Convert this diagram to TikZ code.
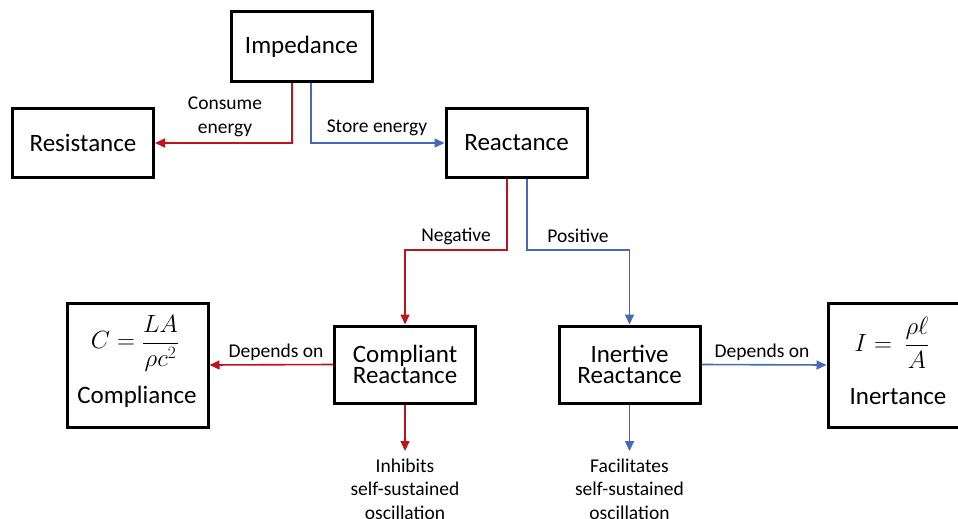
\documentclass[tikz,border=0pt]{standalone}
\usepackage{fontspec}
\setmainfont{Carlito}
\usetikzlibrary{arrows.meta}
\definecolor{myred}{RGB}{192,20,28}
\definecolor{myblue}{RGB}{68,104,188}
\begin{document}
\begin{tikzpicture}[x=1pt,y=-1pt,
  box/.style={draw=black,line width=3pt,rectangle,minimum width=141pt,minimum height=69pt,inner sep=0pt,align=center,font=\fontsize{25}{25}\selectfont},
  bigbox/.style={box,minimum height=124pt},
  lbl/.style={font=\fontsize{19.5}{23.5}\selectfont,align=center,inner sep=0pt},
  rarr/.style={draw=myred,line width=1.6pt,-{Triangle[length=10pt,width=9pt]}},
  barr/.style={draw=myblue,line width=1.6pt,-{Triangle[length=10pt,width=9pt]}}]
\useasboundingbox (0,0) rectangle (958,519);
\node[box] (imp) at (301.5,46.5) {Impedance};
\node[box] (res) at (83,143) {Resistance};
\node[box] (rea) at (516.5,143) {Reactance};
\node[box,minimum height=77pt] (cr) at (405,364.5) {Compliant\\[-4pt]Reactance};
\node[box,minimum height=77pt] (ir) at (629.5,364.5) {Inertive\\[-4pt]Reactance};
\node[bigbox] (cmp) at (137.5,365) {};
\node[bigbox] (ine) at (898.5,365) {};
\node (ceq) at (135,343) {\fontsize{24}{24}\selectfont$\displaystyle C=\frac{LA}{\rho c^{2}}$};
\node[font=\fontsize{25}{25}\selectfont] (ctx) at (137,397) {Compliance};
\node (ieq) at (892,343) {\fontsize{24}{24}\selectfont$\displaystyle I=\ \frac{\rho\ell}{A}$};
\node[font=\fontsize{25}{25}\selectfont] (itx) at (898,397) {Inertance};
\coordinate (inh) at (405,451);
\coordinate (fac) at (629.5,451);
\node[lbl] (inhT) at (405,489) {Inhibits\\self-sustained\\oscillation};
\node[lbl] (facT) at (629.5,489) {Facilitates\\self-sustained\\oscillation};
% connectors
\draw[rarr] ([xshift=-9.5pt]imp.south) |- (res.east);
\draw[barr] ([xshift=9.5pt]imp.south) |- (rea.west);
\node[lbl] at (225,117) {Consume\\energy};
\node[lbl] at (377,128) {Store energy};
\draw[rarr] ([xshift=-9.5pt]rea.south) -- ++(0,71) -| (cr.north);
\draw[barr] ([xshift=10.5pt]rea.south) -- ++(0,71) -| (ir.north);
\node[lbl] at (456,236) {Negative};
\node[lbl] at (578,236) {Positive};
\draw[rarr] (cr.west) -- (cmp.east);
\draw[barr] (ir.east) -- (ine.west);
\node[lbl] at (276,352) {Depends on};
\node[lbl] at (762,352) {Depends on};
\draw[rarr] (cr.south) -- (inh);
\draw[barr] (ir.south) -- (fac);
\end{tikzpicture}
\end{document}
